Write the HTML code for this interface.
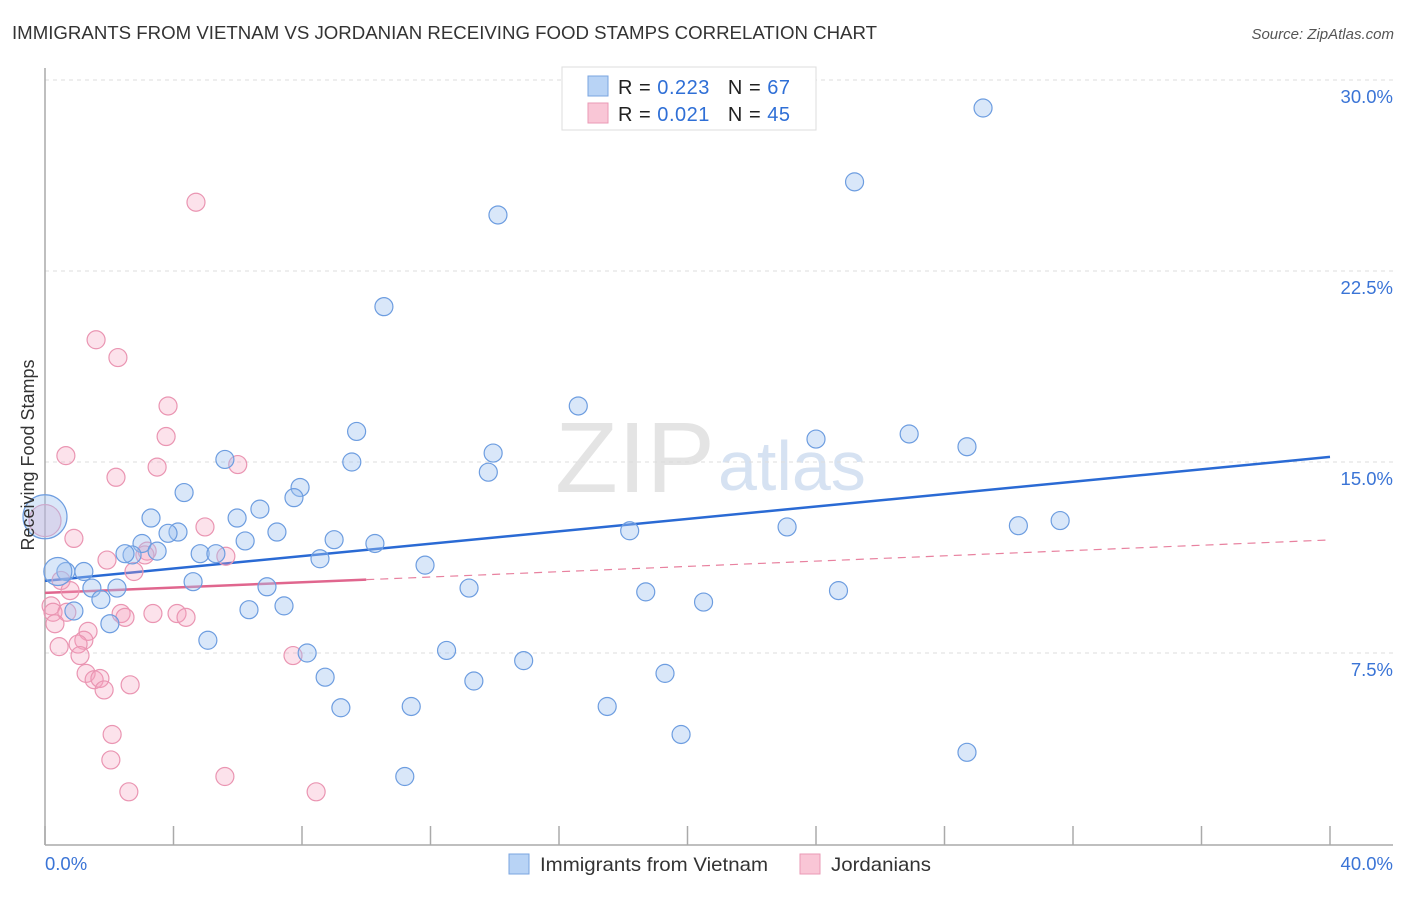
<!DOCTYPE html>
<html><head><meta charset="utf-8"><style>
body{margin:0;background:#fff;font-family:"Liberation Sans",sans-serif}
svg text{font-family:"Liberation Sans",sans-serif}
</style></head><body>
<svg id="chart" width="1406" height="892" xmlns="http://www.w3.org/2000/svg">
<text x="12" y="39" font-size="18.5" fill="#333" textLength="865" lengthAdjust="spacingAndGlyphs">IMMIGRANTS FROM VIETNAM VS JORDANIAN RECEIVING FOOD STAMPS CORRELATION CHART</text>
<text x="1394" y="39" font-size="15" fill="#555" font-style="italic" text-anchor="end">Source: ZipAtlas.com</text>
<text x="555" y="492" font-size="100" fill="#e4e4e4" textLength="160" lengthAdjust="spacingAndGlyphs" font-family="Liberation Serif">ZIP</text>
<text x="718" y="490" font-size="70" fill="#d6e2f2">atlas</text>
<g id="grid"></g><g id="axes"></g><g id="trend"></g><g id="pts"></g>
<text transform="translate(34,455) rotate(-90)" font-size="18" fill="#333" text-anchor="middle">Receiving Food Stamps</text>
<g>
<rect x="562" y="67" width="254" height="63" fill="#fff" stroke="#ddd"/>
<rect x="588" y="76" width="20" height="20" fill="#b8d3f5" stroke="#7aa5e0"/>
<rect x="588" y="103" width="20" height="20" fill="#f9c6d6" stroke="#ea9ab5"/>
<text x="618" y="94" font-size="20" fill="#222" textLength="172" lengthAdjust="spacing">R = <tspan fill="#2f6fd6">0.223</tspan><tspan dx="18">N = </tspan><tspan fill="#2f6fd6">67</tspan></text>
<text x="618" y="121" font-size="20" fill="#222" textLength="172" lengthAdjust="spacing">R = <tspan fill="#2f6fd6">0.021</tspan><tspan dx="18">N = </tspan><tspan fill="#2f6fd6">45</tspan></text>
</g>
<g>
<rect x="509" y="854" width="20" height="20" fill="#b8d3f5" stroke="#7aa5e0"/>
<text x="540" y="871" font-size="19.5" fill="#333" textLength="228" lengthAdjust="spacingAndGlyphs">Immigrants from Vietnam</text>
<rect x="800" y="854" width="20" height="20" fill="#f9c6d6" stroke="#ea9ab5"/>
<text x="831" y="871" font-size="19.5" fill="#333" textLength="100" lengthAdjust="spacingAndGlyphs">Jordanians</text>
</g>
</svg>
<script>
const xTicksPct=[0,4,8,12,16,20,24,28,32,36,40];
const yGrid=[7.5,15,22.5,30];
const yLabels=["7.5%","15.0%","22.5%","30.0%"];
const blueX=[29.2,25.2,14.1,10.55,16.6,24.0,26.9,28.7,9.7,5.6,9.55,13.95,13.8,4.33,7.94,7.75,6.69,5.98,3.3,4.14,3.83,7.22,18.2,23.1,30.3,31.6,3.02,3.49,2.71,2.49,4.83,5.32,6.23,9.0,10.27,8.56,11.83,1.21,0.65,1.46,2.24,4.61,6.91,13.2,18.7,24.7,1.74,0.9,6.35,7.44,20.5,2.02,5.07,8.16,12.5,14.9,19.3,8.72,13.35,9.21,11.4,17.5,19.8,28.7,11.2,0.4,0];
const blueY=[28.9,26.0,24.7,21.1,17.2,15.9,16.1,15.6,16.2,15.1,15.0,15.35,14.6,13.8,14.0,13.6,13.15,12.8,12.8,12.25,12.2,12.25,12.3,12.45,12.5,12.7,11.8,11.5,11.35,11.4,11.4,11.4,11.9,11.95,11.8,11.2,10.95,10.7,10.7,10.05,10.05,10.3,10.1,10.05,9.9,9.95,9.6,9.15,9.2,9.35,9.5,8.65,8.0,7.5,7.6,7.2,6.7,6.55,6.4,5.35,5.4,5.4,4.3,3.6,2.65,10.7,12.85];
const blueR=[9,9,9,9,9,9,9,9,9,9,9,9,9,9,9,9,9,9,9,9,9,9,9,9,9,9,9,9,9,9,9,9,9,9,9,9,9,9,9,9,9,9,9,9,9,9,9,9,9,9,9,9,9,9,9,9,9,9,9,9,9,9,9,9,9,14,22];
const pinkX=[4.7,1.59,2.27,3.83,3.77,0.65,3.49,6.0,2.21,0.9,4.98,3.18,3.11,1.93,5.63,2.77,0.5,0.78,0.19,0.25,0.68,2.37,2.49,3.36,4.11,4.39,0.31,1.34,1.21,1.03,0.44,1.09,7.72,1.28,1.53,1.71,1.84,2.65,2.09,2.05,5.6,2.61,8.44,0];
const pinkY=[25.2,19.8,19.1,17.2,16.0,15.25,14.8,14.9,14.4,12.0,12.45,11.5,11.35,11.15,11.3,10.7,10.35,9.95,9.35,9.1,9.1,9.05,8.9,9.05,9.05,8.9,8.65,8.35,8.0,7.85,7.75,7.4,7.4,6.7,6.45,6.5,6.05,6.25,4.3,3.3,2.65,2.05,2.05,12.7];
const blueTrend=[10.33,15.2];
const pinkTrend=[9.86,11.94];
const pinkSolidEnd=10;
const NS="http://www.w3.org/2000/svg";
const X0=45,X1=1330,Y0=844,PY=191/7.5;
function sx(v){return X0+(v/40)*(X1-X0);}
function sy(v){return Y0-v*PY;}
function mk(tag,attrs,parent){const e=document.createElementNS(NS,tag);for(const k in attrs)e.setAttribute(k,attrs[k]);parent.appendChild(e);return e;}
const grid=document.getElementById('grid'),axes=document.getElementById('axes'),trend=document.getElementById('trend'),pts=document.getElementById('pts');
yGrid.forEach((v,i)=>{
  const l=mk('line',{x1:45,x2:1393,y1:sy(v),y2:sy(v),stroke:'#ddd','stroke-dasharray':'4,4'},grid);
  
  
  const t=mk('text',{x:1393,y:sy(v)+23,'font-size':18.5,fill:'#3a74d6','text-anchor':'end'},grid);
  t.textContent=yLabels[i];
  
  
});
const ax=mk('line',{x1:45,x2:1393,y1:845,y2:845,stroke:'#aaa','stroke-width':1.5},axes);


const ay=mk('line',{x1:45,x2:45,y1:68,y2:845,stroke:'#aaa','stroke-width':1.5},axes);


xTicksPct.forEach(v=>{
  const t=mk('line',{x1:sx(v),x2:sx(v),y1:826,y2:845,stroke:'#aaa','stroke-width':1.5},axes);
  
  
});
[[0,'0.0%','start',45],[40,'40.0%','end',1393]].forEach(a=>{
  const t=mk('text',{x:a[3],y:870,'font-size':18.5,fill:'#3a74d6','text-anchor':a[2]},axes);
  t.textContent=a[1];
  
  
});
pinkX.forEach((x,i)=>{
  const c=mk('circle',{cx:sx(x),cy:sy(pinkY[i]),r:i===pinkX.length-1?16:9,fill:'rgba(244,160,190,0.3)',stroke:'#ea95b2','stroke-width':1.2},pts);
  
  
});
blueX.forEach((x,i)=>{
  const c=mk('circle',{cx:sx(x),cy:sy(blueY[i]),r:blueR[i],fill:'rgba(160,196,240,0.4)',stroke:'#6d9de0','stroke-width':1.2},pts);
  
  
});
const bt=mk('line',{x1:sx(0),y1:sy(blueTrend[0]),x2:sx(40),y2:sy(blueTrend[1]),stroke:'#2a6ad4','stroke-width':2.5},trend);


const pm=pinkTrend[0]+(pinkTrend[1]-pinkTrend[0])*pinkSolidEnd/40;
const ps=mk('line',{x1:sx(0),y1:sy(pinkTrend[0]),x2:sx(pinkSolidEnd),y2:sy(pm),stroke:'#e0668e','stroke-width':2.5},trend);


const pd=mk('line',{x1:sx(pinkSolidEnd),y1:sy(pm),x2:sx(40),y2:sy(pinkTrend[1]),stroke:'#e8819f','stroke-width':1.2,'stroke-dasharray':'8,6'},trend);


</script>
</body></html>
